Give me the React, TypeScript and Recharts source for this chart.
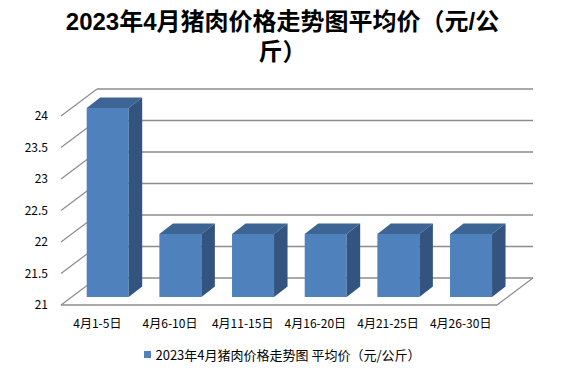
import React from 'react';
import { BarChart, Bar, XAxis, YAxis, CartesianGrid } from 'recharts';

const categories = ['4月1-5日', '4月6-10日', '4月11-15日', '4月16-20日', '4月21-25日', '4月26-30日'];
const prices = [24, 22, 22, 22, 22, 22];
const yTicks = [21, 21.5, 22, 22.5, 23, 23.5, 24];
const seriesName = '2023年4月猪肉价格走势图 平均价（元/公斤）';
const titleLines = ['2023年4月猪肉价格走势图平均价（元/公', '斤）'];

const data = categories.map((c, i) => ({ name: c, value: prices[i] }));

const FONT = '"Noto Sans CJK SC", "Noto Sans", sans-serif';
const TITLE_FONT = '"Liberation Sans", "Noto Sans CJK SC", sans-serif';
const DX = 36;
const DY = 27;
const BX = 10.7;
const BY = 8;
const BDX = 13.5;
const BDY = 10.5;
const GRID = '#8c8c8c';

const GridLine = (props: any) => {
  const { x1, y1, x2, y, height, index } = props;
  const isFloor = Math.abs(y1 - (y + height)) < 0.5;
  return (
    <g key={`g-${index}`}>
      <line x1={x1} y1={y1} x2={x1 + DX} y2={y1 - DY} stroke={GRID} strokeWidth={1.2} />
      <line x1={x1 + DX} y1={y1 - DY} x2={x2 + DX} y2={y1 - DY} stroke={GRID} strokeWidth={1.4} />
      {isFloor && (
        <>
          <line x1={x1} y1={y1} x2={x2} y2={y1} stroke={GRID} strokeWidth={1.4} />
          <line x1={x2} y1={y1} x2={x2 + DX} y2={y1 - DY} stroke={GRID} strokeWidth={1.2} />
        </>
      )}
    </g>
  );
};

const Bar3D = (props: any) => {
  const { x, y, width, height } = props;
  const fx = x + BX;
  const fy = y - BY;
  const bottom = fy + height;
  return (
    <g>
      <rect x={fx} y={fy} width={width} height={height} fill="#4F81BD" />
      <polygon
        points={`${fx},${fy} ${fx + BDX},${fy - BDY} ${fx + width + BDX},${fy - BDY} ${fx + width},${fy}`}
        fill="#3C6595"
      />
      <polygon
        points={`${fx + width},${fy} ${fx + width + BDX},${fy - BDY} ${fx + width + BDX},${bottom - BDY} ${fx + width},${bottom}`}
        fill="#32547E"
      />
    </g>
  );
};

export default function App() {
  return (
    <div style={{ position: 'absolute', left: 0, top: 0, width: 565, height: 374, background: '#fff', fontFamily: FONT }}>
      {titleLines.map((t, i) => (
        <div
          key={t}
          style={{
            position: 'absolute',
            left: 0,
            top: 8 + i * 30,
            width: 565,
            height: 28,
            textAlign: 'center',
            fontSize: 24,
            fontWeight: 'bold',
            lineHeight: '28px',
            color: '#000',
            fontFamily: TITLE_FONT,
          }}
        >
          {t}
        </div>
      ))}
      <BarChart
        width={565}
        height={374}
        data={data}
        margin={{ top: 116, right: 68, bottom: 0, left: 1 }}
      >
        <CartesianGrid horizontal={GridLine as any} vertical={false} />
        <XAxis
          dataKey="name"
          axisLine={false}
          tickLine={false}
          tickMargin={8}
          height={69}
          interval={0}
          tick={{ fontSize: 12, fill: '#000', fontFamily: FONT }}
        />
        <YAxis
          domain={[21, 24]}
          ticks={yTicks}
          axisLine={false}
          tickLine={false}
          tickMargin={7}
          width={60}
          tick={{ fontSize: 12, fill: '#000', fontFamily: FONT }}
        />
        <Bar dataKey="value" name={seriesName} barSize={42} shape={Bar3D} isAnimationActive={false} />
      </BarChart>
      <div
        style={{
          position: 'absolute',
          left: 0,
          top: 344,
          width: 565,
          height: 20,
          display: 'flex',
          justifyContent: 'center',
          alignItems: 'center',
          fontSize: 13,
          color: '#000',
        }}
      >
        <span style={{ display: 'inline-block', width: 7, height: 7, background: '#4F81BD', marginRight: 4 }} />
        <span>{seriesName}</span>
      </div>
    </div>
  );
}
